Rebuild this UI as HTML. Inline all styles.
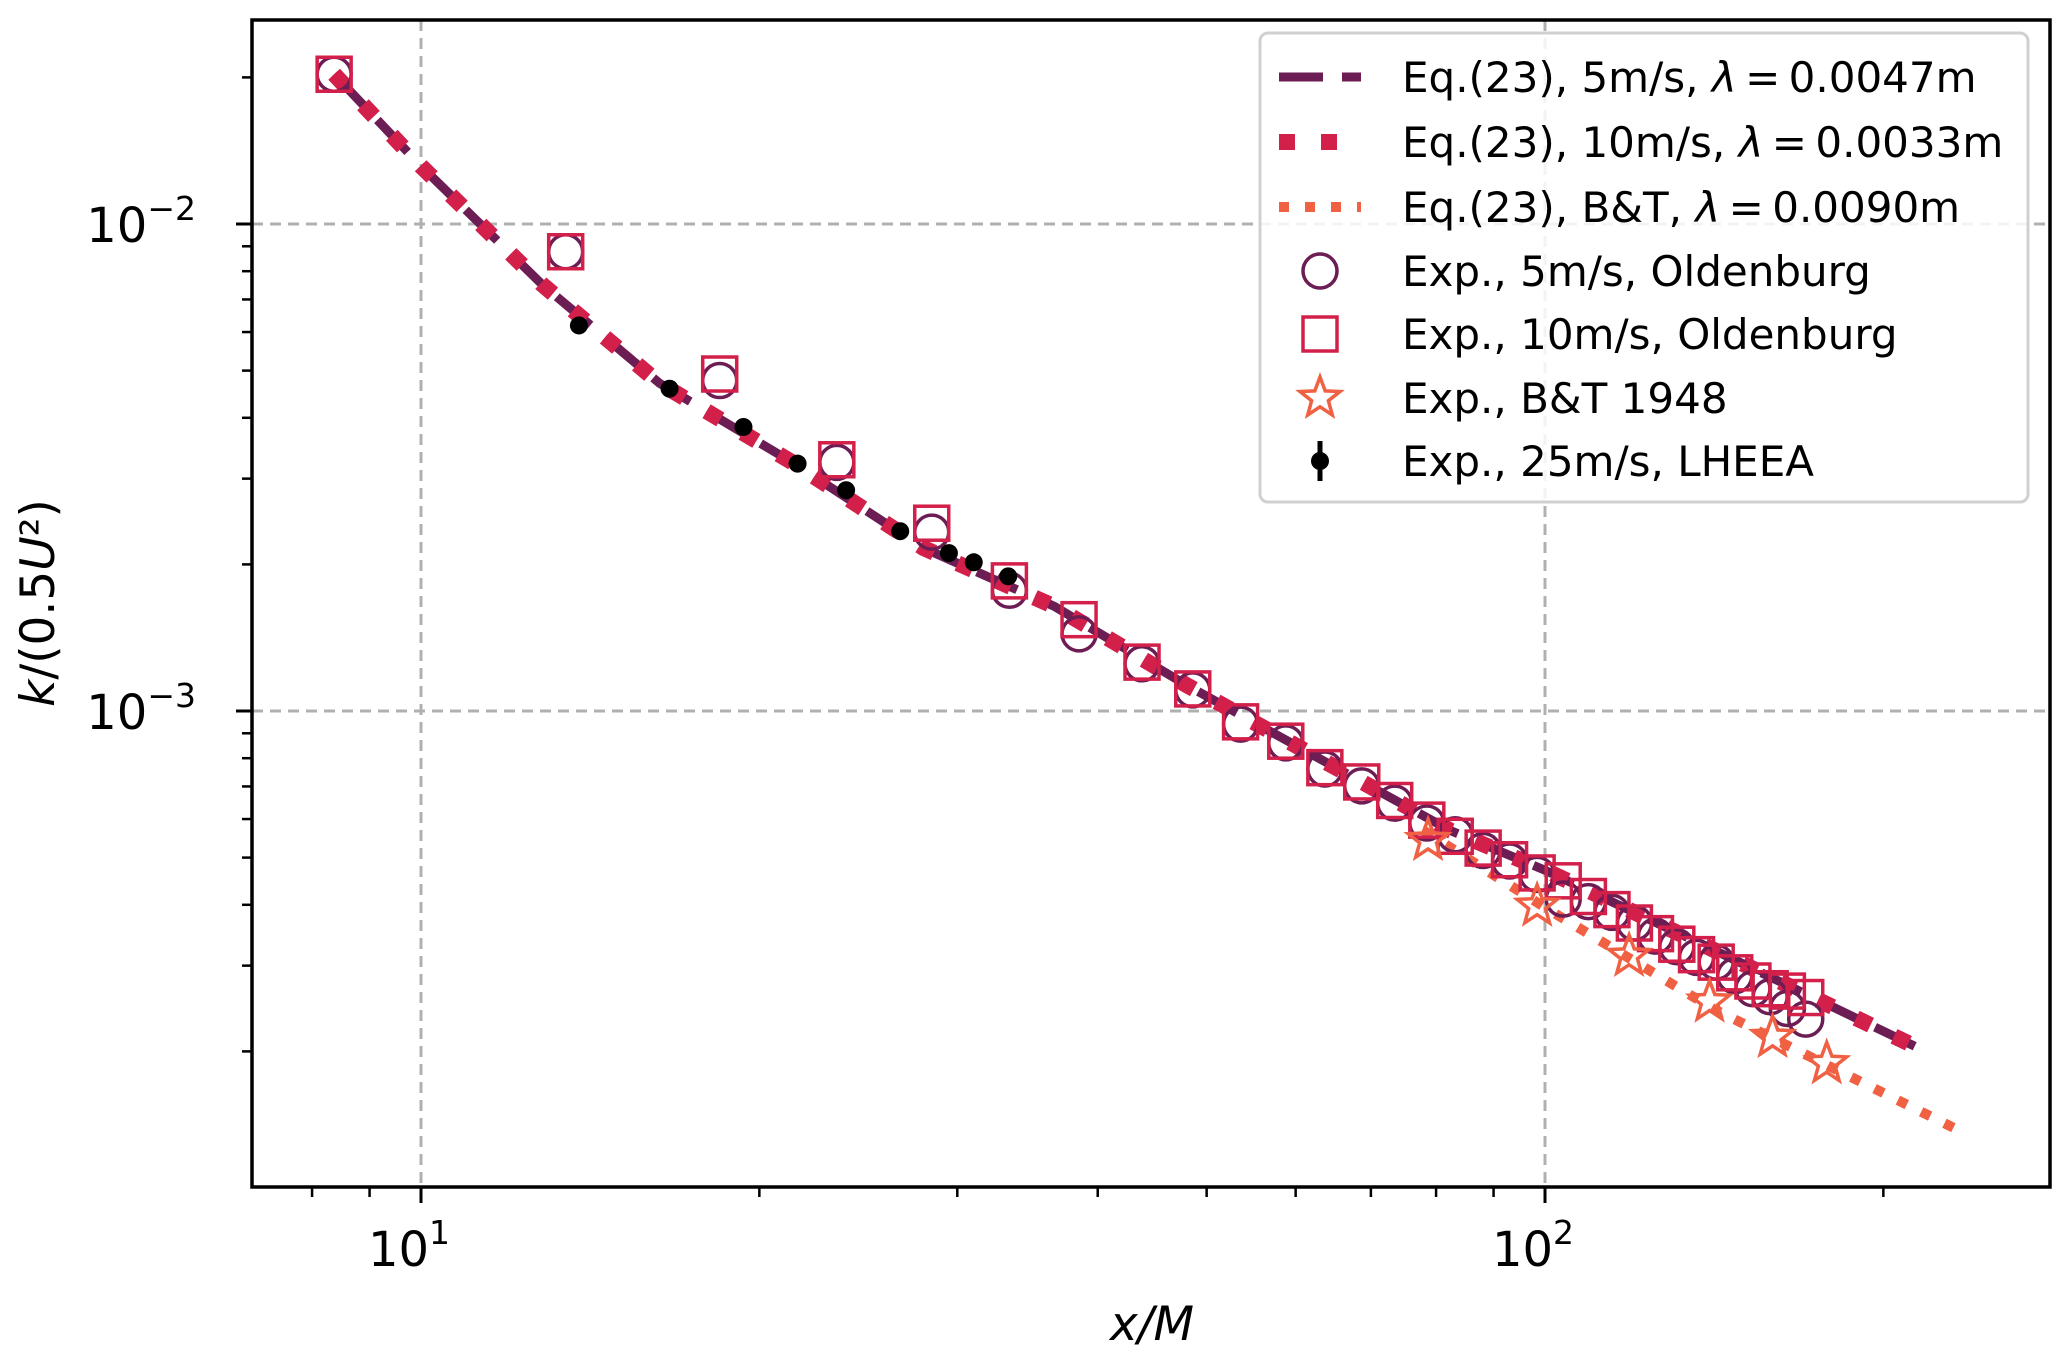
<!DOCTYPE html>
<html><head><meta charset="utf-8"><style>
html,body{margin:0;padding:0;background:#fff;}
svg{display:block;font-family:"DejaVu Sans","Liberation Sans",sans-serif;}
</style></head><body>
<svg id="chart" xmlns="http://www.w3.org/2000/svg" width="2067" height="1360" viewBox="0 0 2067 1360">
<defs><clipPath id="plotclip"><rect x="252" y="20" width="1798" height="1167"/></clipPath></defs>
<g id="grid"></g>
<g id="series" clip-path="url(#plotclip)"></g>
<rect x="252" y="20" width="1798" height="1167" fill="none" stroke="#000" stroke-width="3.5"/>
<g id="ticks"></g>
<text x="1152" y="1340" font-size="47" text-anchor="middle" font-style="italic">x/M</text>
<text transform="translate(54,603) rotate(-90)" font-size="47" text-anchor="middle"><tspan font-style="italic">k</tspan>/(0.5<tspan font-style="italic">U</tspan>²)</text>
<g id="legend"></g>
</svg>
<script>
// ---- data ----
const curve5X = [8.37, 10, 12.82, 16.3, 21.4, 28.0, 36.6, 48.0, 62.9, 82.4, 100, 141, 217];
const curve5Y = [0.0203, 0.01315, 0.00751, 0.00471, 0.00324, 0.00216, 0.00164, 0.00113, 0.0008, 0.000568, 0.000471, 0.000324, 0.000201];
const curveBTX = [78, 100, 141, 233];
const curveBTY = [0.000568, 0.000395, 0.000245, 0.000138];
const exp5X = [8.37,13.45,18.44,23.44,28.47,33.38,38.5,43.8,48.6,53.6,58.8,63.7,68.7,73.5,78.5,83.2,88.1,93.0,98.4,103.8,109.3,114.7,120.1,125.4,131.0,136.4,142.0,147.5,153.1,158.6,164.3,170.6];
const exp5Y = [0.0203,0.00877,0.00477,0.00324,0.00233,0.00177,0.00144,0.00125,0.001105,0.00094,0.00086,0.00076,0.000702,0.000647,0.000589,0.000557,0.000517,0.000492,0.000462,0.000411,0.000406,0.000386,0.000367,0.000345,0.000328,0.000312,0.000305,0.000286,0.000269,0.000259,0.000245,0.000233];
const exp10X = exp5X;
const exp10Y = [0.0203,0.00877,0.00492,0.00328,0.00243,0.00185,0.00154,0.00126,0.00111,0.00095,0.000867,0.000765,0.000715,0.000655,0.000597,0.000553,0.000523,0.000495,0.000465,0.000448,0.000416,0.000391,0.000367,0.000349,0.000332,0.000316,0.000305,0.00029,0.000279,0.000269,0.000266,0.000258];
const btX = [78.7, 98.4, 118.8, 140.1, 159.4, 178.1];
const btY = [0.000543, 0.000398, 0.000314, 0.000253, 0.000214, 0.000189];
const lhX = [13.82, 16.64, 19.36, 21.63, 23.89, 26.69, 29.49, 31.03, 33.3];
const lhY = [0.00619, 0.00459, 0.00383, 0.00322, 0.00284, 0.00234, 0.00211, 0.00202, 0.00189];
const xMajorTicks = [10, 100];
const xMajorLabels = ["1", "2"];
const yMajorTicks = [0.01, 0.001];
const yMajorLabels = ["\u22122", "\u22123"];
const legendLabels = ["Eq.(23), 5m/s, ","Eq.(23), 10m/s, ","Eq.(23), B&T, ","Exp., 5m/s, Oldenburg","Exp., 10m/s, Oldenburg","Exp., B&T 1948","Exp., 25m/s, LHEEA"];
const legendLambda = ["0.0047m","0.0033m","0.0090m"];

// ---- axes ----
const NS = "http://www.w3.org/2000/svg";
const X0 = 252, X1 = 2050, Y0 = 20, Y1 = 1187;
function px(v){ return 421 + (Math.log10(v) - 1) * 1124; }
function py(v){ return 224 + (-2 - Math.log10(v)) * 487; }
function mk(tag, attrs, parent){
  const e = document.createElementNS(NS, tag);
  for (const k in attrs) e.setAttribute(k, attrs[k]);
  parent.appendChild(e); return e;
}
const C5 = "#6b1d54", C10 = "#d3204a", CBT = "#f06043";
const grid = document.getElementById('grid');
const ticks = document.getElementById('ticks');
const ser = document.getElementById('series');
const leg = document.getElementById('legend');

xMajorTicks.forEach((v, i) => {
  const x = px(v);
  const g = mk('line', {x1:x, x2:x, y1:Y0, y2:Y1, stroke:'#b0b0b0', 'stroke-width':3, 'stroke-dasharray':'11 7'}, grid);
  
  
  const t = mk('line', {x1:x, x2:x, y1:Y1, y2:Y1+16, stroke:'#000', 'stroke-width':3}, ticks);
  
  
  const lb = mk('text', {x:x-12, y:1266, 'font-size':48, 'text-anchor':'middle'}, ticks);
  
  
  lb.textContent = "10";
  const sp = mk('tspan', {dy:-22, 'font-size':33}, lb);
  sp.textContent = xMajorLabels[i];
});
for (let d = 1; d <= 100; d *= 10) {
  for (let m = 2; m <= 9; m++) {
    const v = m * d, x = px(v);
    if (x < X0 || x > X1) continue;
    const t = mk('line', {x1:x, x2:x, y1:Y1, y2:Y1+10, stroke:'#000', 'stroke-width':2.5}, ticks);
    
    
  }
}
yMajorTicks.forEach((v, i) => {
  const y = py(v);
  const g = mk('line', {x1:X0, x2:X1, y1:y, y2:y, stroke:'#b0b0b0', 'stroke-width':3, 'stroke-dasharray':'11 7'}, grid);
  
  
  const t = mk('line', {x1:X0-16, x2:X0, y1:y, y2:y, stroke:'#000', 'stroke-width':3}, ticks);
  
  
  const lb = mk('text', {x:196, y:y+18, 'font-size':48, 'text-anchor':'end'}, ticks);
  
  
  lb.textContent = "10";
  const sp = mk('tspan', {dy:-22, 'font-size':33}, lb);
  sp.textContent = yMajorLabels[i];
});
for (let d = 0.0001; d <= 0.011; d *= 10) {
  for (let m = 2; m <= 9; m++) {
    const v = m * d, y = py(v);
    if (y < Y0 || y > Y1) continue;
    const t = mk('line', {x1:X0-10, x2:X0, y1:y, y2:y, stroke:'#000', 'stroke-width':2.5}, ticks);
    
    
  }
}

// ---- series ----
function pathFrom(xs, ys){ return xs.map((x,i)=>(i?'L':'M')+px(x).toFixed(1)+','+py(ys[i]).toFixed(1)).join(' '); }
const l5 = mk('path', {d:pathFrom(curve5X, curve5Y), fill:'none', stroke:C5, 'stroke-width':9, 'stroke-dasharray':'44 19'}, ser);


const l10 = mk('path', {d:pathFrom(curve5X, curve5Y), fill:'none', stroke:C10, 'stroke-width':16, 'stroke-dasharray':'16 26'}, ser);


const lbt = mk('path', {d:pathFrom(curveBTX, curveBTY), fill:'none', stroke:CBT, 'stroke-width':10, 'stroke-dasharray':'10 16'}, ser);



function circle(cx, cy, p){ return mk('circle', {cx:cx, cy:cy, r:17, fill:'none', stroke:C5, 'stroke-width':3.5}, p); }
function square(cx, cy, p){ return mk('rect', {x:cx-17, y:cy-17, width:34, height:34, fill:'none', stroke:C10, 'stroke-width':3.5}, p); }
function star(cx, cy, p, R){
  R = R || 21; const r = R*0.42; let pts = [];
  for (let k = 0; k < 10; k++){ const a = -Math.PI/2 + k*Math.PI/5, rr = k%2 ? r : R; pts.push((cx+rr*Math.cos(a)).toFixed(1)+','+(cy+rr*Math.sin(a)).toFixed(1)); }
  return mk('polygon', {points:pts.join(' '), fill:'none', stroke:CBT, 'stroke-width':3.5, 'stroke-linejoin':'miter'}, p);
}
exp5X.forEach((x,i)=>{ const e = circle(px(x), py(exp5Y[i]), ser);
  
   });
exp10X.forEach((x,i)=>{ const e = square(px(x), py(exp10Y[i]), ser);
  
   });
btX.forEach((x,i)=>{ const e = star(px(x), py(btY[i]), ser);
  
   });
lhX.forEach((x,i)=>{ const e = mk('circle', {cx:px(x), cy:py(lhY[i]), r:9, fill:'#000'}, ser);
  
   });

// ---- legend ----
const box = mk('rect', {x:1260, y:33, width:768, height:469, rx:8, fill:'rgba(255,255,255,0.85)', stroke:'#d0d0d0', 'stroke-width':3}, leg);


const rows = [77, 142, 207, 271, 334, 398, 461];
const hx1 = 1279, hx2 = 1361, hc = 1320;
legendLabels.forEach((lab, i) => {
  const y = rows[i];
  const g = mk('g', {}, leg);
  
  
  if (i === 0) mk('line', {x1:hx1, x2:hx2, y1:y, y2:y, stroke:C5, 'stroke-width':9, 'stroke-dasharray':'44 19'}, g);
  if (i === 1) mk('line', {x1:hx1, x2:hx2, y1:y, y2:y, stroke:C10, 'stroke-width':16, 'stroke-dasharray':'16 26'}, g);
  if (i === 2) mk('line', {x1:hx1, x2:hx2, y1:y, y2:y, stroke:CBT, 'stroke-width':10, 'stroke-dasharray':'10 16'}, g);
  if (i === 3) circle(hc, y, g);
  if (i === 4) square(hc, y, g);
  if (i === 5) star(hc, y, g);
  if (i === 6){ mk('line', {x1:hc, x2:hc, y1:y-20, y2:y+20, stroke:'#000', 'stroke-width':5}, g); mk('circle', {cx:hc, cy:y, r:9, fill:'#000'}, g); }
  const t = mk('text', {x:1402, y:y+15, 'font-size':42}, g);
  t.textContent = lab;
  if (i < 3) {
    const s1 = mk('tspan', {'font-style':'italic'}, t); s1.textContent = "\u03bb";
    const s2 = mk('tspan', {}, t); s2.textContent = "\u2009=\u2009" + legendLambda[i];
  }
});
</script>
</body></html>
